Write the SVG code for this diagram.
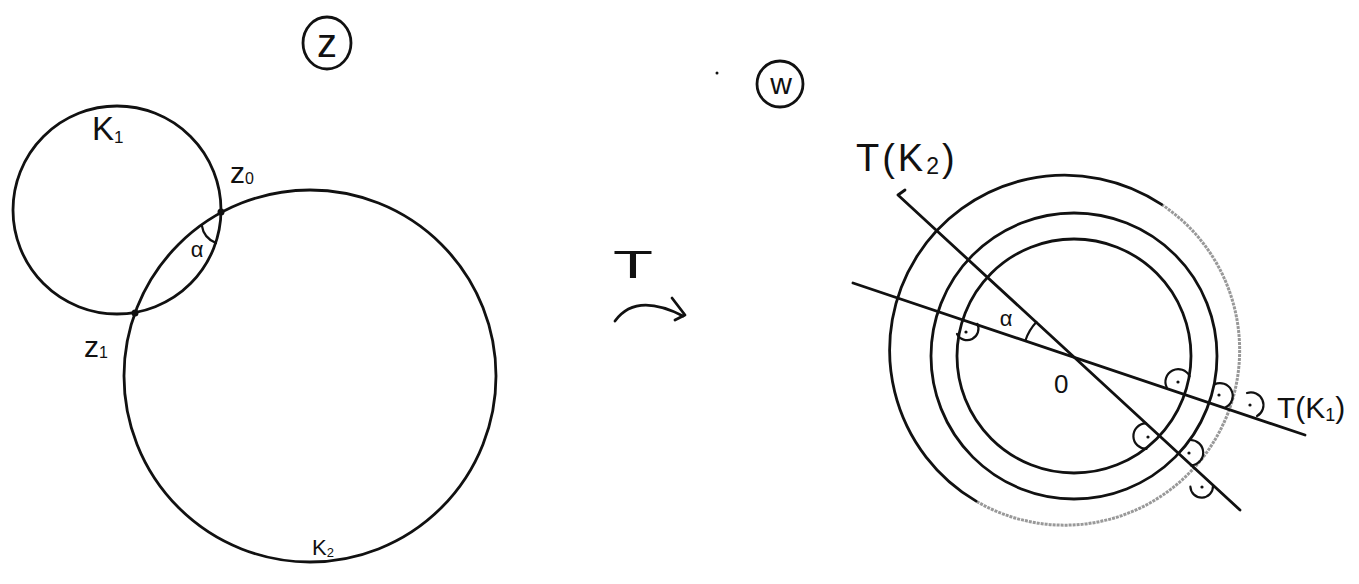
<svg xmlns="http://www.w3.org/2000/svg" width="1359" height="584" viewBox="0 0 1359 584">
<style>
.ln{fill:none;stroke:#111;stroke-width:2.8;stroke-linecap:round;stroke-linejoin:round}
.th{fill:none;stroke:#111;stroke-width:2.2;stroke-linecap:round}
.gr{fill:none;stroke:#999;stroke-width:3;stroke-dasharray:3 1}
.tx{font-family:"Liberation Sans","DejaVu Sans",sans-serif;fill:#111}
.dot{fill:#111}
</style>
<rect width="1359" height="584" fill="#fff"/>
<g id="z-plane-label">
<ellipse cx="327" cy="43" rx="24" ry="26" class="ln"/>
<text x="327" y="57" class="tx" font-size="40" text-anchor="middle">z</text>
</g>
<g id="k1">
<circle cx="117" cy="210" r="104" class="ln"/>
<text x="92" y="140" class="tx" font-size="33">K<tspan font-size="17" dy="3">1</tspan></text>
</g>
<g id="k2">
<circle cx="310" cy="376" r="186" class="ln"/>
<text x="312" y="555" class="tx" font-size="22">K<tspan font-size="13" dy="2">2</tspan></text>
</g>
<g id="z0">
<circle cx="221" cy="212" r="3.5" class="dot"/>
<text x="230" y="183" class="tx" font-size="30">z<tspan font-size="16" dy="1">0</tspan></text>
</g>
<g id="z1">
<circle cx="135" cy="313" r="3.5" class="dot"/>
<text x="84" y="357" class="tx" font-size="30">z<tspan font-size="16" dy="1">1</tspan></text>
</g>
<g id="alpha-left">
<path d="M201.7 225 A23 23 0 0 0 216 243" class="th"/>
<text x="197" y="257" class="tx" font-size="22" text-anchor="middle">α</text>
</g>
<g id="dot-mark">
<circle cx="717" cy="73" r="1.5" class="dot"/>
</g>
<g id="w-plane-label">
<ellipse cx="780" cy="84" rx="23" ry="23" class="ln"/>
<text x="781" y="94" class="tx" font-size="30" text-anchor="middle">w</text>
</g>
<g id="t-label">
<text x="613" y="278" class="tx" font-size="38" textLength="40" lengthAdjust="spacingAndGlyphs">T</text>
</g>
<g id="connectors">
<path d="M615 321 Q636 292 683 316" class="ln" stroke-width="3"/>
<path d="M672 298 L685 315 L675 320" class="ln" stroke-width="3"/>
</g>
<g id="outer-circle">
<path d="M1161.5 204.4 A175 175 0 0 1 976.1 501.1" class="gr"/>
<path d="M976.1 501.1 A175 175 0 1 1 1161.5 204.4" class="ln"/>
</g>
<g id="middle-circle">
<circle cx="1074" cy="356" r="143" class="ln"/>
</g>
<g id="inner-circle">
<circle cx="1074" cy="356" r="117" class="ln"/>
</g>
<g id="tk2">
<path d="M905 190 L898 195 L1240 510" class="ln"/>
<text x="856" y="171" class="tx" font-size="38" letter-spacing="3">T(K<tspan font-size="23" dy="3">2</tspan><tspan dy="-3">)</tspan></text>
</g>
<g id="tk1">
<path d="M853 283 L1305 435" class="ln"/>
<text x="1277" y="418" class="tx" font-size="30">T(K<tspan font-size="18" dy="3">1</tspan><tspan dy="-3">)</tspan></text>
</g>
<g id="origin">
<path d="M1036.4 322 A50 50 0 0 0 1025.6 340" class="th"/>
<text x="1006" y="326" class="tx" font-size="22" text-anchor="middle">α</text>
<text x="1054" y="393" class="tx" font-size="26">0</text>
</g>
<g id="right-angles">
<path d="M1166.8 387.6 A12.7 12.7 0 0 1 1189.6 376.2" class="th"/>
<circle cx="1178" cy="382" r="1.6" class="dot"/>
<path d="M1214.3 384.5 A12.7 12.7 0 0 1 1225.7 407.3" class="th"/>
<circle cx="1219" cy="395" r="1.6" class="dot"/>
<path d="M1247 393 A12.6 12.6 0 0 1 1257 416" class="th"/>
<circle cx="1250" cy="405" r="1.6" class="dot"/>
<path d="M1145.6 423.4 A12.7 12.7 0 0 0 1146.6 448.8" class="th"/>
<circle cx="1148" cy="437" r="1.6" class="dot"/>
<path d="M1190 440 A12.7 12.7 0 0 1 1191 465.4" class="th"/>
<circle cx="1189" cy="453" r="1.6" class="dot"/>
<path d="M1190.4 486.7 A11.3 11.3 0 0 0 1213 485.9" class="th"/>
<circle cx="1202" cy="487" r="1.6" class="dot"/>
<path d="M957 333.9 A11.3 11.3 0 0 0 977.3 323.8" class="th"/>
<circle cx="966" cy="332" r="1.6" class="dot"/>
</g>
</svg>
